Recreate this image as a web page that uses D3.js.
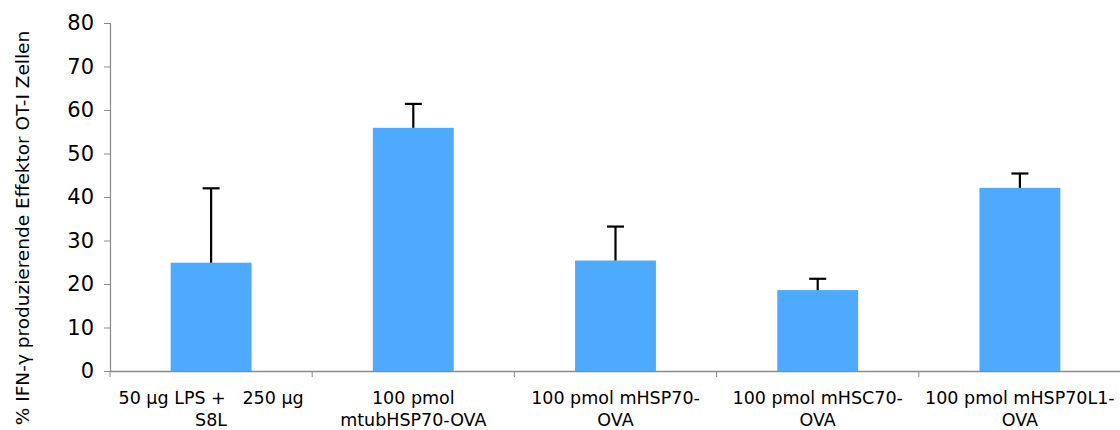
<!DOCTYPE html>
<html><head><meta charset="utf-8">
<script src="https://cdn.jsdelivr.net/npm/d3@7"></script>
<style>body{margin:0;background:#fff}svg{display:block}</style>
</head><body>
<svg id="c" width="1120" height="430"></svg>
<script>
const categories = ["50 µg LPS +   250 µg|S8L", "100 pmol|mtubHSP70-OVA", "100 pmol mHSP70-|OVA", "100 pmol mHSC70-|OVA", "100 pmol mHSP70L1-|OVA"];
const values = [24.9, 55.9, 25.4, 18.6, 42.1];
const errors = [17.1, 5.5, 7.8, 2.6, 3.3];
const yTicks = [0, 10, 20, 30, 40, 50, 60, 70, 80];
const yTitle = "% IFN-γ produzierende Effektor OT-I Zellen";

const svg = d3.select("#c");
const x = d3.scaleBand().domain(categories).range([110, 1121]).padding(0);
const y = d3.scaleLinear().domain([0, 80]).range([371, 23]);
const font = "'DejaVu Sans', Verdana, sans-serif";

// y axis
const ya = svg.append("g").attr("transform", "translate(110,0)")
  .call(d3.axisLeft(y).tickValues(yTicks).tickSize(6).tickPadding(10).tickFormat(d3.format("d")));
ya.select(".domain").attr("stroke", "#8a8a8a").attr("stroke-width", 1.2);
ya.selectAll(".tick line").attr("stroke", "#8a8a8a");
ya.selectAll(".tick text").attr("font-family", font).attr("font-size", 21).attr("fill", "#000");

// x axis
const xa = svg.append("g").attr("transform", "translate(0,371)")
  .call(d3.axisBottom(x).tickSize(0).tickFormat(""));
xa.select(".domain").attr("stroke", "#8a8a8a").attr("stroke-width", 1.5);
xa.selectAll(".tick").remove();
const bounds = categories.map(c => x(c));
xa.selectAll("line.sep").data(bounds).join("line").attr("class", "sep")
  .attr("x1", d => d).attr("x2", d => d).attr("y1", 0).attr("y2", 6)
  .attr("stroke", "#8a8a8a");

// bars
const bw = x.bandwidth() * 0.4;
svg.selectAll("rect.bar").data(categories).join("rect").attr("class", "bar")
  .attr("x", (d) => x(d) + x.bandwidth() / 2 - bw / 2)
  .attr("width", bw)
  .attr("y", (d, i) => y(values[i]))
  .attr("height", (d, i) => y(0) - y(values[i]))
  .attr("fill", "#4daaff");

// error bars
const cap = 17;
const eg = svg.append("g").attr("stroke", "#000").attr("stroke-width", 2.2);
categories.forEach((c, i) => {
  const cx = x(c) + x.bandwidth() / 2;
  eg.append("line").attr("x1", cx).attr("x2", cx).attr("y1", y(values[i])).attr("y2", y(values[i] + errors[i]));
  eg.append("line").attr("x1", cx - cap / 2).attr("x2", cx + cap / 2).attr("y1", y(values[i] + errors[i])).attr("y2", y(values[i] + errors[i]));
});

// x labels
categories.forEach(c => {
  const lines = c.split("|");
  const t = svg.append("text").attr("x", x(c) + x.bandwidth() / 2).attr("y", 404)
    .attr("text-anchor", "middle").attr("font-family", font).attr("font-size", 17.5)
    .attr("fill", "#000").style("white-space", "pre");
  lines.forEach((l, k) => t.append("tspan").attr("x", x(c) + x.bandwidth() / 2).attr("dy", k ? 22 : 0).text(l));
});

// y title
svg.append("text").attr("transform", "translate(29,228) rotate(-90)")
  .attr("text-anchor", "middle").attr("font-family", font).attr("font-size", 18.5)
  .attr("fill", "#000").text(yTitle);
</script>
</body></html>
